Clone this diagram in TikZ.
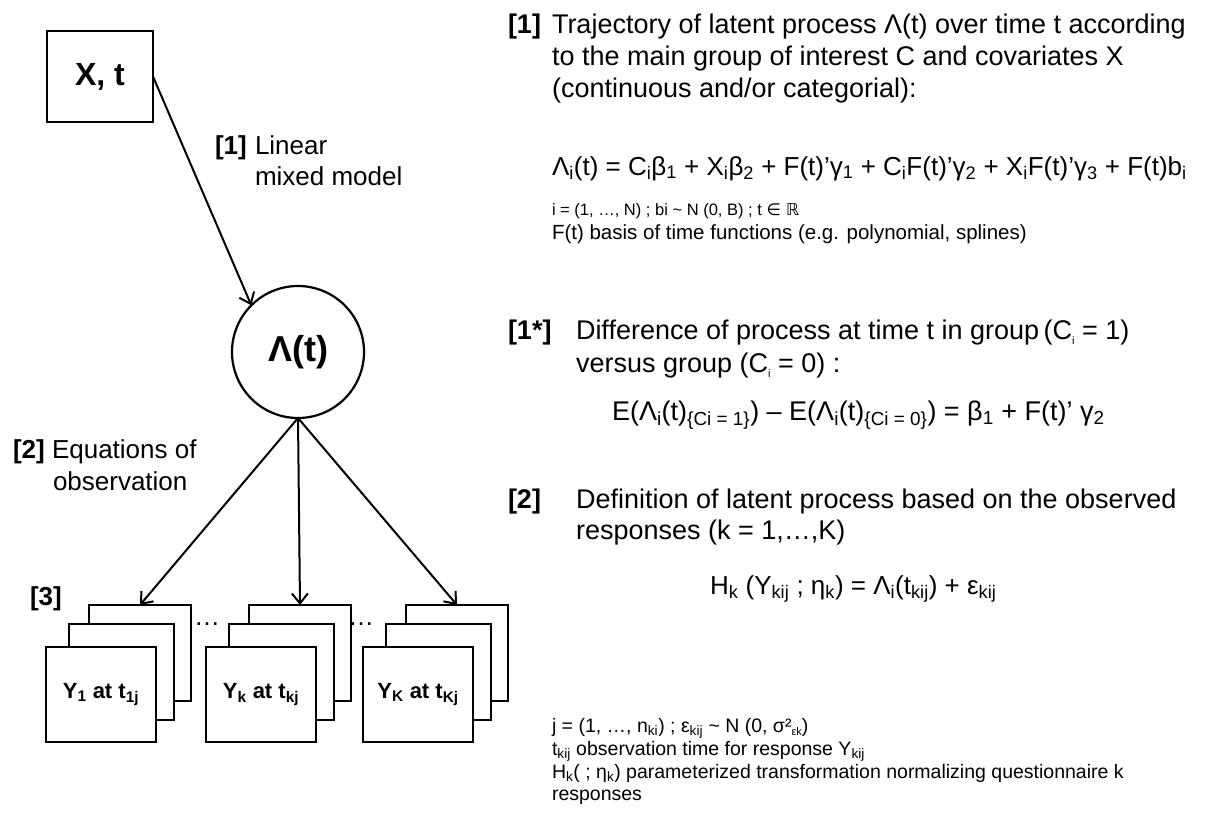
\documentclass[tikz,border=0pt]{standalone}
\usepackage{fontspec}
\setmainfont{Liberation Sans}
\newfontfamily\dejavu{DejaVu Sans}
\usetikzlibrary{arrows.meta}
\newcommand{\sub}[1]{\textsubscript{#1}}
\newcommand{\tsub}[1]{\raisebox{-0.2em}{\fontsize{11}{11}\selectfont #1}}
\begin{document}
\begin{tikzpicture}[x=1pt,y=-1pt,
  every node/.style={inner sep=0pt,outer sep=0pt},
  lbl/.style={font=\fontsize{26}{31}\selectfont, anchor=base west},
  bl/.style={font=\fontsize{26}{31}\selectfont\bfseries, anchor=base west},
  rbl/.style={font=\fontsize{27}{32}\selectfont\bfseries, anchor=base west},
  txt/.style={font=\fontsize{27}{32}\selectfont, anchor=base west},
  eqn/.style={font=\fontsize{26}{32}\selectfont, anchor=base west},
  tiny/.style={font=\fontsize{16.5}{19}\selectfont, anchor=base west},
  small/.style={font=\fontsize{20.5}{23}\selectfont, anchor=base west},
  box/.style={draw, line width=2.2pt, fill=white},
  ytext/.style={font=\fontsize{22}{24}\selectfont\bfseries},
  conn/.style={line width=2pt, -{Straight Barb[length=10pt,width=16pt,line width=2pt]}},
]
\useasboundingbox (0,0) rectangle (1214,812);

% top box and latent node
\node[box, minimum width=106pt, minimum height=91pt, font=\fontsize{32}{36}\selectfont\bfseries] (xt) at (100,76.5) {X, t};
\node[box, circle, minimum size=132pt, font=\fontsize{36}{38}\selectfont\bfseries] (lam) at (298,352) {Λ(t)};
\draw[conn] (xt.east) -- (lam.135);

% stacks
\foreach \L/\nm/\lab in {46/a/{Y\sub{1} at t\sub{1j}}, 206/b/{Y\sub{k} at t\sub{kj}}, 363/c/{Y\sub{K} at t\sub{Kj}}}{
  \node[box, minimum width=102pt, minimum height=96pt] (\nm back) at (\L+94,653) {};
  \node[box, minimum width=105pt, minimum height=96pt] (\nm mid) at (\L+75.5,672) {};
  \node[box, minimum width=110pt, minimum height=95pt, ytext] (\nm front) at (\L+55,694.5) {\lab};
}
\node[font=\fontsize{26}{30}\selectfont] (dots1) at (207,624) {…};
\node[font=\fontsize{26}{30}\selectfont] (dots2) at (361,624) {…};

\draw[conn] (lam.south) -- (aback.north);
\draw[conn] (lam.south) -- (bback.north);
\draw[conn] (lam.south) -- (cback.north);

% left labels
\node[bl] (n1) at (215,154) {[1]};
\node[lbl] (n1a) at (255,154) {Linear};
\node[lbl] (n1b) at (255,185) {mixed model};
\node[bl] (n2) at (13,458) {[2]};
\node[lbl] (n2a) at (52,458) {Equations of};
\node[lbl] (n2b) at (53,490) {observation};
\node[bl] (n3) at (30,605) {[3]};

% right panel
\node[rbl] (r1) at (508,33) {[1]};
\node[txt] (r1a) at (552,33) {Trajectory of latent process Λ(t) over time t according};
\node[txt] (r1b) at (552,65) {to the main group of interest C and covariates X};
\node[txt] (r1c) at (552,97) {(continuous and/or categorial):};
\node[eqn] (e1) at (552,175) {Λ\sub{i}(t) = C\sub{i}β\sub{1} + X\sub{i}β\sub{2} + F(t)’γ\sub{1} + C\sub{i}F(t)’γ\sub{2} + X\sub{i}F(t)’γ\sub{3} + F(t)b\sub{i}};
\node[tiny] (s1) at (552,215) {i = (1, …, N) ; bi \textasciitilde{} N (0, B) ; t {\dejavu ∈ ℝ}};
\node[small] (s2) at (552,239) {F(t) basis of time functions (e.g. polynomial, splines)};

\node[rbl] (r2) at (508,339) {[1*]};
\node[txt] (r2a) at (576,339) {Difference of process at time t in group\,(C\tsub{i} = 1)};
\node[txt] (r2b) at (576,372) {versus group (C\tsub{i} = 0) :};
\node[eqn, font=\fontsize{27}{32}\selectfont] (e2) at (612,420) {E(Λ\sub{i}(t)\sub{\{Ci = 1\}}) – E(Λ\sub{i}(t)\sub{\{Ci = 0\}}) = β\sub{1} + F(t)’ γ\sub{2}};

\node[rbl] (r3) at (508,508) {[2]};
\node[txt] (r3a) at (576,508) {Definition of latent process based on the observed};
\node[txt] (r3b) at (576,539) {responses (k = 1,…,K)};
\node[eqn] (e3) at (710,594) {H\sub{k} (Y\sub{kij} ; η\sub{k}) = Λ\sub{i}(t\sub{kij}) + ε\sub{kij}};

\node[small, font=\fontsize{19.5}{23}\selectfont] (s3) at (552,732) {j = (1, …, n\sub{ki}) ; ε\sub{kij} \textasciitilde{} N (0, σ²\tsub{εk})};
\node[small, font=\fontsize{19.5}{23}\selectfont] (s4) at (552,755) {t\sub{kij} observation time for response Y\sub{kij}};
\node[small, font=\fontsize{19.5}{23}\selectfont] (s5) at (552,778) {H\sub{k}( ; η\sub{k}) parameterized transformation normalizing questionnaire k};
\node[small, font=\fontsize{19.5}{23}\selectfont] (s6) at (552,800) {responses};
\end{tikzpicture}
\end{document}
